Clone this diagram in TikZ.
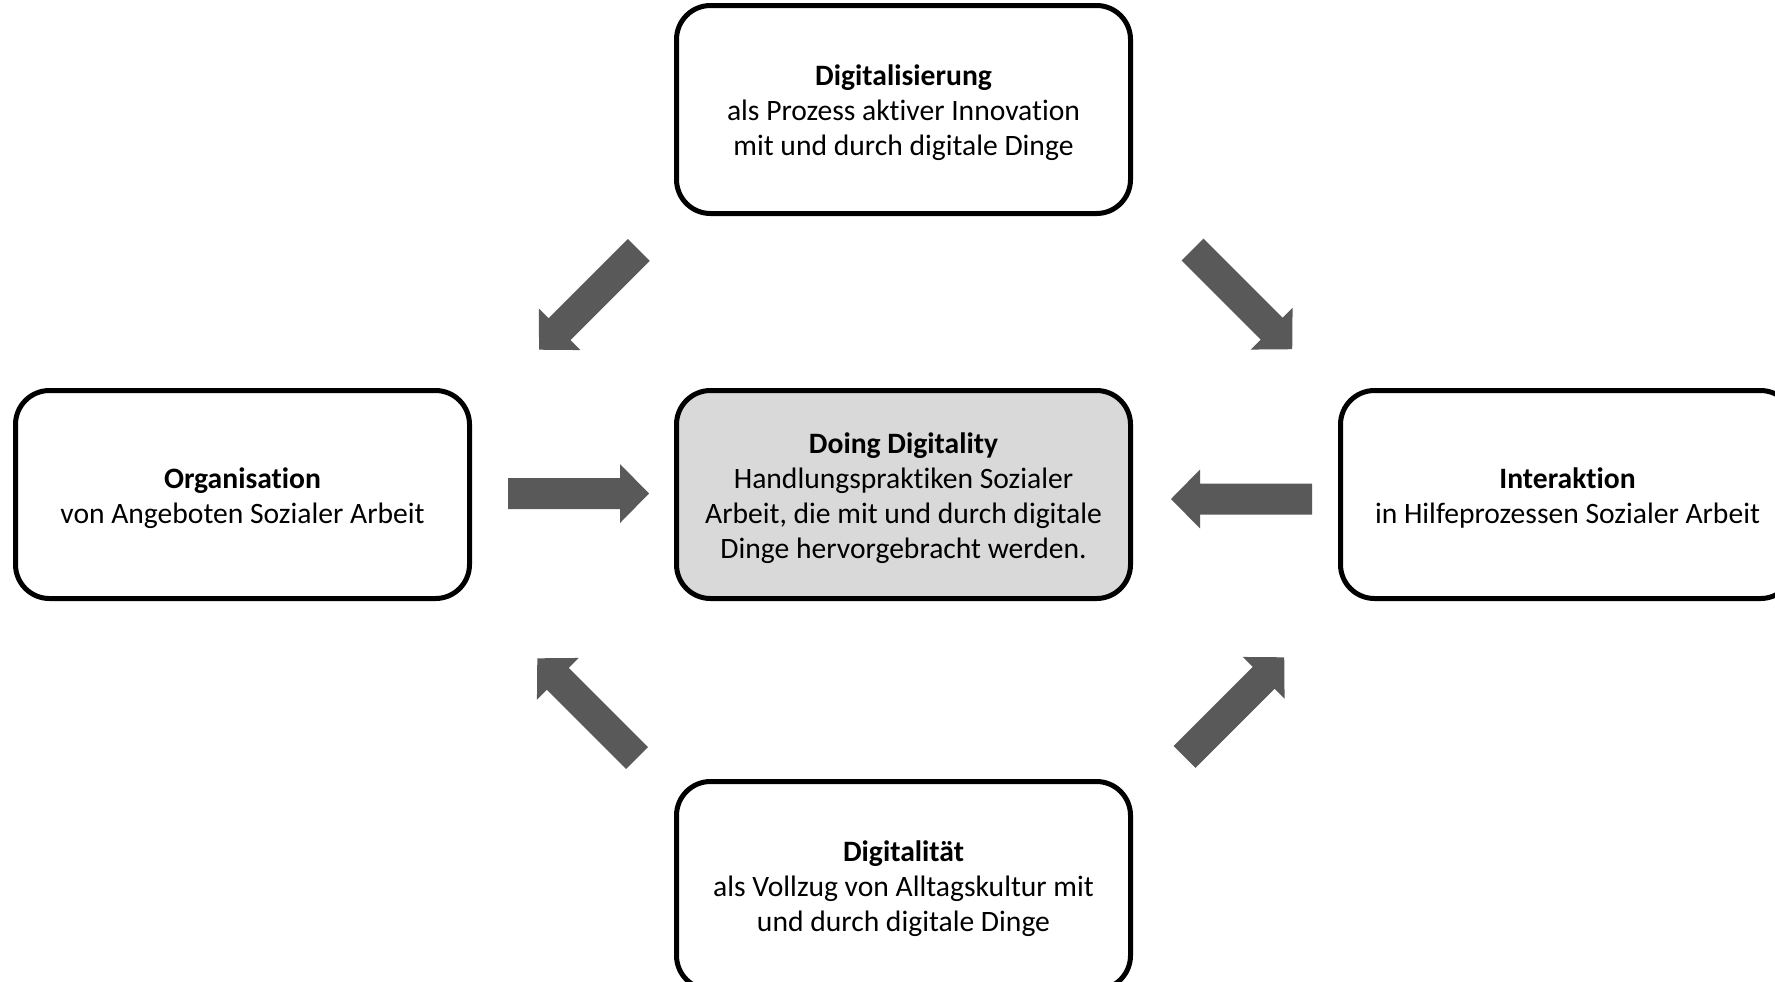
\documentclass[tikz,border=0pt]{standalone}
\usepackage{fontspec}
\setmainfont{Carlito}[Ligatures={TeX,NoCommon}]
\definecolor{arrowgray}{HTML}{595959}
\definecolor{boxgray}{HTML}{D9D9D9}
\newcommand\topstrut{\rule{0pt}{14pt}}
\tikzset{
  box/.style={draw=black, line width=2.5pt, rounded corners=17pt, fill=white,
    minimum width=227pt, minimum height=104pt, align=center, inner sep=2pt,
    font=\fontsize{14.8}{17.5}\selectfont},
  blockarrow/.pic={
    \fill[arrowgray] (0,-15.5) -- (112,-15.5) -- (112,-29.5) -- (141,0)
      -- (112,29.5) -- (112,15.5) -- (0,15.5) -- cycle;
  }
}
\begin{document}
\begin{tikzpicture}[x=0.5pt,y=-0.5pt]
\useasboundingbox (0,0) rectangle (1775,981);
\clip (0,0) rectangle (1775,981);
\node[box] (top) at (903.5,109.5) {\topstrut\textbf{Digitalisierung}\\als Prozess aktiver Innovation\\mit und durch digitale Dinge};
\node[box, fill=boxgray] (center) at (903.5,494.5) {\topstrut\textbf{Doing Digitality}\\Handlungspraktiken Sozialer\\Arbeit, die mit und durch digitale\\Dinge hervorgebracht werden.};
\node[box] (left) at (242.5,494.5) {\topstrut\textbf{Organisation}\\von Angeboten Sozialer Arbeit};
\node[box] (right) at (1567.5,494.5) {\topstrut\textbf{Interaktion}\\in Hilfeprozessen Sozialer Arbeit};
\node[box] (bottom) at (903.5,885.5) {\topstrut\textbf{Digitalität}\\als Vollzug von Alltagskultur mit\\und durch digitale Dinge};
\coordinate (atl) at (638.8,250);
\coordinate (atr) at (1192.5,249.5);
\coordinate (aml) at (508,493.5);
\coordinate (amr) at (1312,499);
\coordinate (abl) at (637,758);
\coordinate (abr) at (1184.5,757);
\pic[rotate=-135] at (atl) {blockarrow};
\pic[rotate=-45] at (atr) {blockarrow};
\pic[rotate=0] at (aml) {blockarrow};
\pic[rotate=180] at (amr) {blockarrow};
\pic[rotate=135] at (abl) {blockarrow};
\pic[rotate=45] at (abr) {blockarrow};
\end{tikzpicture}
\end{document}
